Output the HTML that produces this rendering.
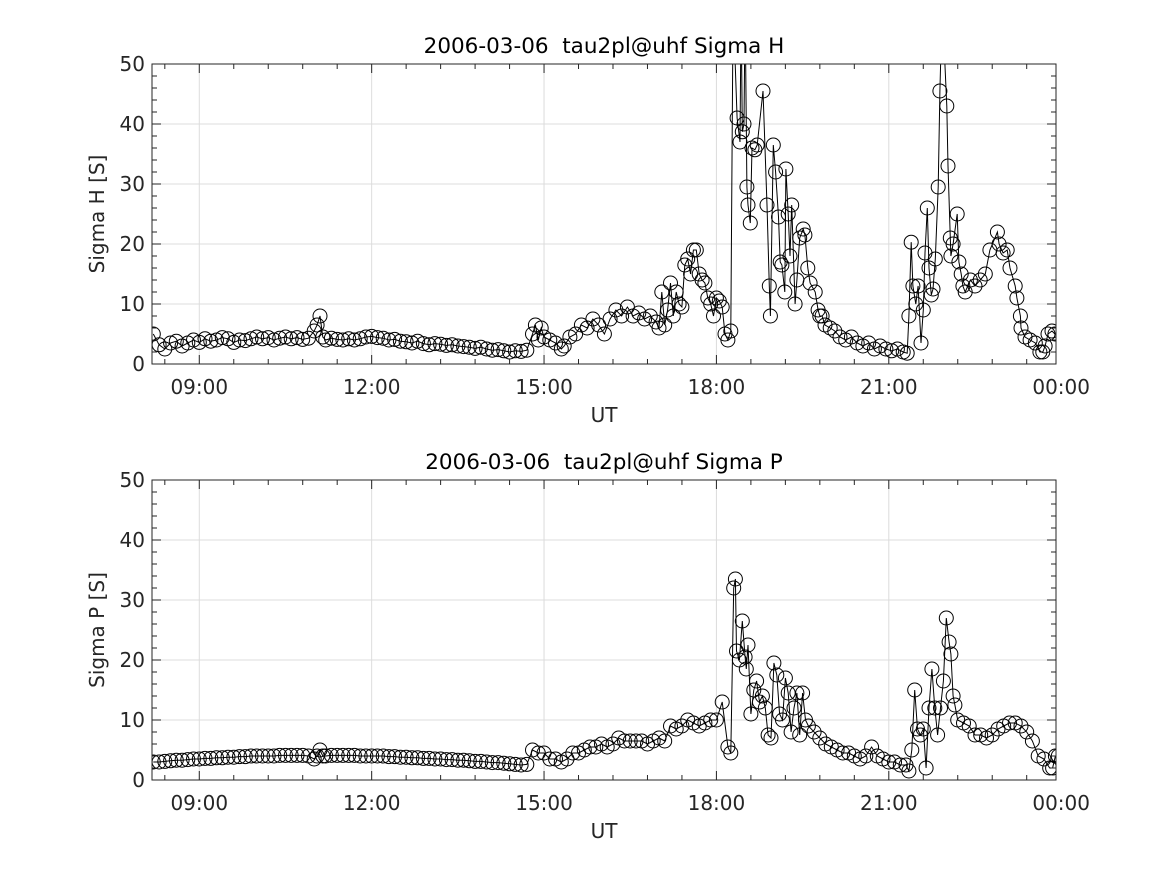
<!DOCTYPE html>
<html><head><meta charset="utf-8"><style>
html,body{margin:0;padding:0;background:#fff;}
svg{display:block;font-family:"DejaVu Sans","Liberation Sans",sans-serif;}
</style></head><body>
<svg id="fig" width="1167" height="875" viewBox="0 0 1167 875"></svg>
<script>
const xTickHours = [9, 12, 15, 18, 21, 24];
const xTickLabels = ["09:00", "12:00", "15:00", "18:00", "21:00", "00:00"];
const yTicks = [0, 10, 20, 30, 40, 50];
const calmTimes = [8.2,8.3,8.4,8.5,8.6,8.7,8.8,8.9,9.0,9.1,9.2,9.3,9.4,9.5,9.6,9.7,9.8,9.9,10.0,10.1,10.2,10.3,10.4,10.5,10.6,10.7,10.8,10.9,11.0,11.05,11.1,11.15,11.2,11.3,11.4,11.5,11.6,11.7,11.8,11.9,12.0,12.1,12.2,12.3,12.4,12.5,12.6,12.7,12.8,12.9,13.0,13.1,13.2,13.3,13.4,13.5,13.6,13.7,13.8,13.9,14.0,14.1,14.2,14.3,14.4,14.5,14.6,14.7];
const calmH = [5,3.2,2.5,3.5,3.8,3,3.5,4,3.6,4.2,3.8,4,4.4,4.2,3.6,4,3.9,4.2,4.5,4.2,4.4,4,4.3,4.5,4.2,4.4,4.1,4.3,5.5,6.5,8,4.5,4,4.3,4.1,4,4.2,4,4.2,4.5,4.6,4.4,4.3,4,4.1,3.8,3.7,3.5,3.8,3.4,3.2,3.4,3.3,3.1,3.2,3,2.9,2.8,2.6,2.8,2.5,2.3,2.4,2.2,2,2.2,2.1,2.3];
const calmP = [3,3,3.1,3.2,3.3,3.3,3.4,3.5,3.5,3.6,3.6,3.7,3.7,3.8,3.8,3.9,3.9,4,4,4,4,4,4.1,4.1,4.1,4.1,4.1,4,3.5,4,5,4,4,4.1,4.1,4.1,4.1,4.1,4,4,4,4,4,3.9,3.9,3.8,3.8,3.7,3.7,3.6,3.6,3.5,3.5,3.4,3.4,3.3,3.3,3.2,3.1,3.1,3,2.9,2.9,2.8,2.7,2.6,2.5,2.6];
const activeTimesH = [14.8,14.85,14.9,14.95,15.0,15.1,15.2,15.3,15.35,15.45,15.55,15.65,15.75,15.85,15.95,16.05,16.15,16.25,16.35,16.45,16.55,16.65,16.75,16.85,16.95,17.0,17.05,17.1,17.15,17.2,17.25,17.3,17.35,17.4,17.45,17.5,17.55,17.6,17.65,17.7,17.75,17.8,17.85,17.9,17.95,18.0,18.05,18.1,18.15,18.2,18.25,18.29,18.36,18.41,18.43,18.45,18.48,18.5,18.53,18.55,18.59,18.62,18.67,18.71,18.81,18.88,18.92,18.94,18.99,19.03,19.08,19.11,19.14,19.19,19.21,19.25,19.28,19.31,19.37,19.4,19.45,19.51,19.54,19.59,19.63,19.72,19.77,19.8,19.84,19.89,19.98,20.06,20.15,20.25,20.35,20.45,20.55,20.65,20.75,20.85,20.95,21.05,21.15,21.25,21.32,21.35,21.39,21.42,21.47,21.51,21.56,21.6,21.63,21.67,21.7,21.74,21.77,21.81,21.86,21.89,21.93,22.01,22.03,22.07,22.08,22.12,22.19,22.22,22.26,22.29,22.33,22.42,22.5,22.59,22.68,22.76,22.89,22.92,22.99,23.06,23.11,23.2,23.23,23.29,23.3,23.37,23.46,23.55,23.63,23.68,23.72,23.77,23.84,23.89];
const activeH = [5,6.5,4,6,4.5,4,3.5,2.5,3,4.5,5,6.5,6,7.5,6.5,5,7.5,9,8,9.5,8,8.5,7.5,8,7,6,12,6.5,9,13.5,8,12,10,9.5,16.5,17.5,15,19,19,15,14,13.5,11,10,8,11,10.5,9.5,5,4,5.5,60,41,37,60,38.7,40,60,29.5,26.5,23.5,36,35.7,36.5,45.5,26.5,13,8,36.5,32,24.5,17,16.5,12,32.5,25,18,26.5,10,14,21,22.5,21.5,16,13.5,12,9,8,8,6.5,6,5.5,4.5,4,4.5,3.5,3,3.5,2.5,3,2.5,2.2,2.5,2,1.8,8,20.3,13,10,13,3.5,9,18.5,26,16,11.5,12.5,17.5,29.5,45.5,60,43,33,21,18,20,25,17,15,13,12,14,13,14,15,19,22,20,18.5,19,16,13,11,8,6,4.5,4,3.5,2,2,3,5,5.5,5];
const activeTimesP = [14.8,14.9,15.0,15.1,15.2,15.3,15.4,15.5,15.6,15.7,15.8,15.9,16.0,16.1,16.2,16.3,16.4,16.5,16.6,16.7,16.8,16.9,17.0,17.1,17.2,17.3,17.4,17.5,17.6,17.7,17.8,17.9,18.0,18.1,18.2,18.25,18.3,18.33,18.35,18.4,18.45,18.5,18.52,18.55,18.6,18.65,18.7,18.75,18.8,18.85,18.9,18.95,19.0,19.05,19.1,19.15,19.2,19.25,19.3,19.35,19.4,19.45,19.5,19.55,19.6,19.7,19.8,19.9,20.0,20.1,20.2,20.3,20.4,20.5,20.6,20.7,20.8,20.9,21.0,21.1,21.2,21.3,21.35,21.4,21.45,21.5,21.55,21.6,21.65,21.7,21.75,21.8,21.85,21.9,21.95,22.0,22.05,22.08,22.12,22.15,22.2,22.3,22.4,22.5,22.6,22.7,22.8,22.9,23.0,23.1,23.2,23.3,23.4,23.5,23.6,23.7,23.8,23.85,23.9,23.95];
const activeP = [5,4.5,4.5,3.5,3.5,3,3.5,4.5,4.5,5,5.5,5.5,6,5.5,6,7,6.5,6.5,6.5,6.5,6,6.5,7,6.5,9,8.5,9,10,9.5,9,9.5,10,10,13,5.5,4.5,32,33.5,21.5,20,26.5,20.5,18.5,22.5,11,15,16.5,13,14,12,7.5,7,19.5,17.5,11,10,17,14.5,8,12,14.5,7.5,14.5,10,9,8,7,6,5.5,5,4.5,4.5,4,3.5,4,5.5,4,3.5,3,3,2.5,2.5,1.5,5,15,8.5,7.5,8.5,2,12,18.5,12,7.5,12,16.5,27,23,21,14,12.5,10,9.5,9,7.5,7.5,7,7.5,8.5,9,9.5,9.5,9,8,6.5,4,3.5,2,2,4,4];

const NS = "http://www.w3.org/2000/svg";
const svg = document.getElementById("fig");
const X0 = 152, X1 = 1056, HMIN = 8.177, HMAX = 23.91;
function xs(h) { return X0 + (h - HMIN) / (HMAX - HMIN) * (X1 - X0); }
function mk(tag, attrs, parent) {
  const e = document.createElementNS(NS, tag);
  for (const k in attrs) e.setAttribute(k, attrs[k]);
  (parent || svg).appendChild(e);
  return e;
}
function panel(idx, top, title, ylabel, times, vals) {
  const bot = top + 300;
  const ys = v => bot - v / 50 * 300;
  const g = mk("g", {});
  
  
  const cid = "clip" + idx;
  const cp = mk("clipPath", {id: cid}, g);
  mk("rect", {x: X0, y: top, width: X1 - X0, height: 300}, cp);
  xTickHours.forEach(h => { const x = xs(h); if (x < X1) {
    const l = mk("line", {x1: x, x2: x, y1: top, y2: bot, stroke: "#dcdcdc", "stroke-width": 1}, g);
    
    
  }});
  yTicks.forEach(v => {
    const l = mk("line", {x1: X0, x2: X1, y1: ys(v), y2: ys(v), stroke: "#dcdcdc", "stroke-width": 1}, g);
    
    
  });
  let d = "";
  times.forEach((t, i) => { d += (i ? "L" : "M") + xs(t).toFixed(1) + "," + ys(vals[i]).toFixed(1); });
  const dg = mk("g", {"clip-path": "url(#" + cid + ")"}, g);
  const line = mk("path", {d: d, fill: "none", stroke: "#000", "stroke-width": 1}, dg);
  
  
  times.forEach((t, i) => {
    const c = mk("circle", {cx: xs(t).toFixed(1), cy: ys(vals[i]).toFixed(1), r: 7, fill: "none", stroke: "#000", "stroke-width": 1}, dg);
    
    
  });
  const box = mk("rect", {x: X0, y: top, width: X1 - X0, height: 300, fill: "none", stroke: "#262626", "stroke-width": 1}, g);
  
  
  let tk = "";
  for (let h = 9 - 0.6; h < HMAX; h += 0.6) {
    const x = xs(h); if (x <= X0 || x >= X1) continue;
    const major = Math.abs((h - 9) / 3 - Math.round((h - 9) / 3)) < 0.01;
    const L = major ? 9 : 5;
    tk += `M${x},${bot}v${-L}M${x},${top}v${L}`;
  }
  for (let v = 0; v <= 50; v += 2) {
    const y = ys(v); const L = v % 10 === 0 ? 9 : 5;
    tk += `M${X0},${y}h${L}M${X1},${y}h${-L}`;
  }
  const ticks = mk("path", {d: tk, stroke: "#262626", "stroke-width": 1, fill: "none"}, g);
  
  
  xTickHours.forEach((h, i) => {
    const t = mk("text", {x: xs(h), y: bot + 30, "text-anchor": "middle", "font-size": 20, fill: "#262626"}, g);
    t.textContent = xTickLabels[i];
    
    
  });
  yTicks.forEach(v => {
    const t = mk("text", {x: X0 - 7, y: ys(v) + 7, "text-anchor": "end", "font-size": 20, fill: "#262626"}, g);
    t.textContent = v;
    
    
  });
  const tt = mk("text", {x: 604, y: top - 11, "text-anchor": "middle", "font-size": 21.5, fill: "#000"}, g);
  tt.textContent = title;
  
  
  const xl = mk("text", {x: 604, y: bot + 58, "text-anchor": "middle", "font-size": 20, fill: "#262626"}, g);
  xl.textContent = "UT";
  
  
  const yl = mk("text", {x: 0, y: 0, "text-anchor": "middle", "font-size": 20, fill: "#262626", transform: `translate(104,${top + 150}) rotate(-90)`}, g);
  yl.textContent = ylabel;
  
  
}
panel(0, 64, "2006-03-06\u00a0\u00a0tau2pl@uhf Sigma H", "Sigma H [S]", calmTimes.concat(activeTimesH), calmH.concat(activeH));
panel(1, 480, "2006-03-06\u00a0\u00a0tau2pl@uhf Sigma P", "Sigma P [S]", calmTimes.concat(activeTimesP), calmP.concat(activeP));
</script>
</body></html>
